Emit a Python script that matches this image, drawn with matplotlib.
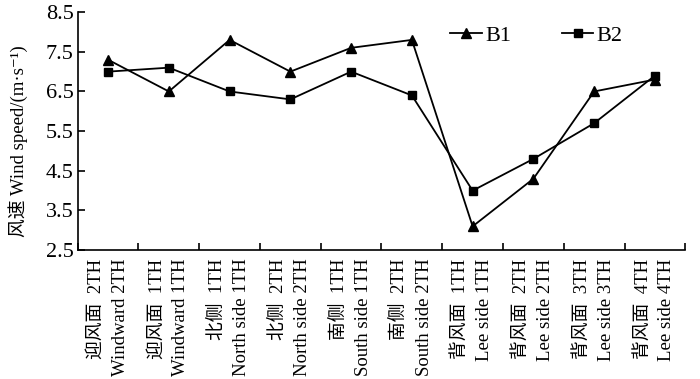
import matplotlib
matplotlib.use("Agg")
import matplotlib.pyplot as plt
import numpy as np

plt.rcParams['font.family'] = ['Liberation Serif', 'Noto Sans CJK SC', 'DejaVu Serif']

categories = ["迎风面  2TH\nWindward 2TH", "迎风面  1TH\nWindward 1TH",
              "北侧  1TH\nNorth side 1TH", "北侧  2TH\nNorth side 2TH",
              "南侧  1TH\nSouth side 1TH", "南侧  2TH\nSouth side 2TH",
              "背风面  1TH\nLee side 1TH", "背风面  2TH\nLee side 2TH",
              "背风面  3TH\nLee side 3TH", "背风面  4TH\nLee side 4TH"]
b1 = [7.3, 6.5, 7.8, 7.0, 7.6, 7.8, 3.1, 4.3, 6.5, 6.8]
b2 = [7.0, 7.1, 6.5, 6.3, 7.0, 6.4, 4.0, 4.8, 5.7, 6.9]
yticks = [2.5, 3.5, 4.5, 5.5, 6.5, 7.5, 8.5]

fig = plt.figure(figsize=(7, 3.79), dpi=100)
ax = fig.add_axes([0.111, 0.34, 0.868, 0.628])
x = np.arange(len(categories))
ax.plot(x, b1, color='black', marker='^', markersize=6.5, lw=1.3, label='B1')
ax.plot(x, b2, color='black', marker='s', markersize=6, lw=1.3, label='B2')

ax.set_xlim(-0.5, len(categories) - 0.5)
ax.set_ylim(2.5, 8.5)
ax.set_yticks(yticks)
ax.set_yticklabels([f"{v:.1f}" for v in yticks], fontsize=16)
ax.set_xticks(x)
ax.set_xticklabels(categories, rotation=90, fontsize=13.5, linespacing=1.55,
                   multialignment='right', va='top', ha='center')
ax.set_xticks(np.arange(-0.5, len(categories)), minor=True)
ax.tick_params(axis='x', which='major', length=0, pad=6)
ax.tick_params(axis='x', which='minor', direction='in', length=5, width=1.2)
ax.tick_params(axis='y', direction='in', length=5, width=1.2, pad=3)
for s in ['top', 'right']:
    ax.spines[s].set_visible(False)
for s in ['left', 'bottom']:
    ax.spines[s].set_linewidth(1.2)

ax.set_ylabel("风速 Wind speed/(m·s⁻¹)", fontsize=13.5)
ax.yaxis.set_label_coords(-0.082, 0.46)
ax.legend(loc='center', bbox_to_anchor=(0.755, 0.90), ncol=2, frameon=False,
          fontsize=16, handlelength=1.4, handletextpad=0.15, columnspacing=2.3)

fig.savefig("out.png", dpi=100)
